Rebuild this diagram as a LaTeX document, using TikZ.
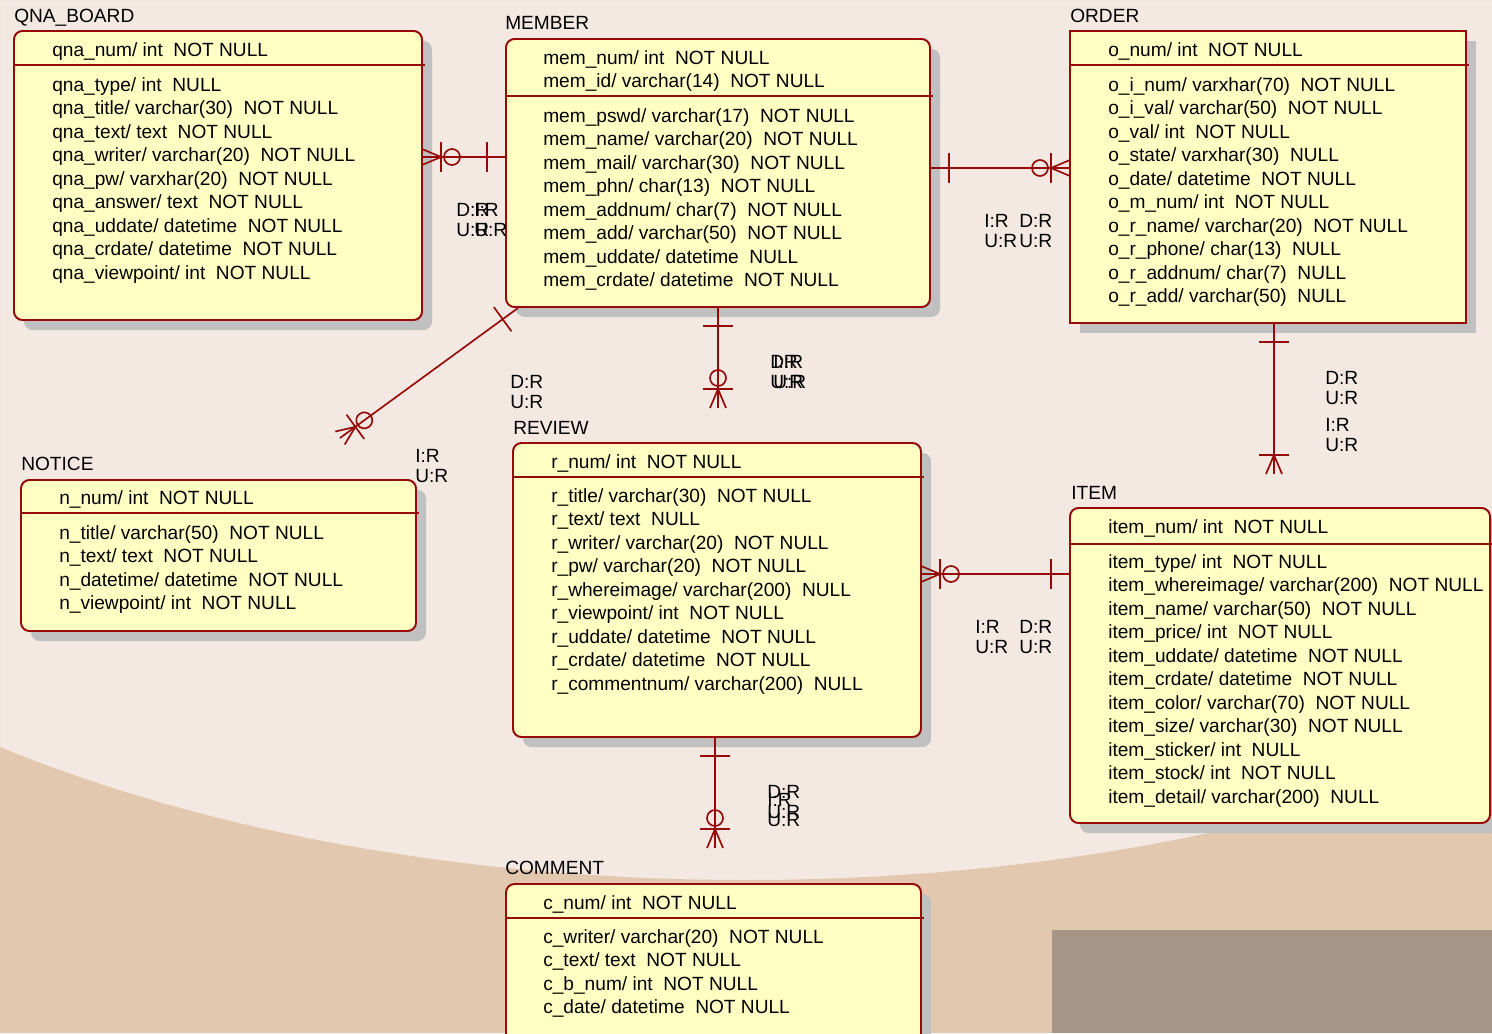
\documentclass[tikz,border=0pt]{standalone}
\usepackage{fontspec}
\setmainfont{Liberation Sans}
\usetikzlibrary{calc}
\definecolor{ErdRed}{RGB}{150,10,10}
\definecolor{ErdFill}{RGB}{255,255,196}
\definecolor{ErdShadow}{RGB}{192,192,192}
\definecolor{WoodPale}{RGB}{244,233,226}
\definecolor{WoodTan}{RGB}{226,200,174}
\definecolor{WoodDark}{RGB}{166,148,134}
\newcommand{\erdfont}{\fontsize{13.6}{16}\selectfont}
\newcommand{\lblfont}{\fontsize{13.6}{14.2}\selectfont}

\tikzset{
  entbox/.style={draw=ErdRed, fill=ErdFill, line width=1.4pt},
  shadowbox/.style={fill=ErdShadow},
  hdrline/.style={draw=ErdRed, line width=1.2pt},
  fieldtxt/.style={anchor=base west, inner sep=0pt, font=\erdfont},
  enttitle/.style={anchor=base west, inner sep=0pt, font=\erdfont},
  rolelbl/.style={anchor=west, inner sep=0pt, align=left, font=\lblfont},
  conn/.style={draw=ErdRed, line width=1.2pt},
  onemark/.pic={\draw[conn] (19,-15) -- (19,15);},
  manymark/.pic={\draw[conn] (0,-8) -- (19,0) -- (0,8);
    \draw[conn] (19,-15) -- (19,15);},
  zmanymark/.pic={\draw[conn] (0,-8) -- (19,0) -- (0,8);
    \draw[conn] (19,-15) -- (19,15);
    \draw[conn] (30,0) circle[radius=8];}
}

\begin{document}
\begin{tikzpicture}[x=0.025cm, y=-0.025cm]
  \useasboundingbox (0,0) rectangle (1492,1033);
  \clip (0,0) rectangle (1492,1033);
  % background
  \fill[WoodPale] (0,0) rectangle (1492,1033);
  \fill[WoodTan, even odd rule] (0,0) rectangle (1492,1033)
    (746,300) ellipse [x radius=1171, y radius=580];
  \fill[WoodDark] (1052,930) rectangle (1492,1033);

  % QNA_BOARD
  \fill[shadowbox, rounded corners=6pt] (24,41) rectangle (432,330);
  \draw[entbox, rounded corners=6pt] (14,31) rectangle (422,320);
  \draw[hdrline] (14,65) -- (425,65);
  \node[enttitle] (qna-title) at (14,22) {QNA\_BOARD};
  \node[fieldtxt] (qna-key) at (52,56) {qna\_num/ int~~NOT NULL};
  \foreach \txt [count=\i] in {qna\_type/ int~~NULL, qna\_title/ varchar(30)~~NOT NULL,
      qna\_text/ text~~NOT NULL, qna\_writer/ varchar(20)~~NOT NULL,
      qna\_pw/ varxhar(20)~~NOT NULL, qna\_answer/ text~~NOT NULL,
      qna\_uddate/ datetime~~NOT NULL, qna\_crdate/ datetime~~NOT NULL,
      qna\_viewpoint/ int~~NOT NULL}
    \node[fieldtxt] (qna-\i) at (52,67.5+23.5*\i) {\txt};

  % MEMBER
  \fill[shadowbox, rounded corners=6pt] (516,49) rectangle (940,317);
  \draw[entbox, rounded corners=6pt] (506,39) rectangle (930,307);
  \draw[hdrline] (506,96) -- (933,96);
  \node[enttitle] (mem-title) at (505,29) {MEMBER};
  \node[fieldtxt] (mem-key1) at (543,64) {mem\_num/ int~~NOT NULL};
  \node[fieldtxt] (mem-key2) at (543,87) {mem\_id/ varchar(14)~~NOT NULL};
  \foreach \txt [count=\i] in {mem\_pswd/ varchar(17)~~NOT NULL, mem\_name/ varchar(20)~~NOT NULL,
      mem\_mail/ varchar(30)~~NOT NULL, mem\_phn/ char(13)~~NOT NULL,
      mem\_addnum/ char(7)~~NOT NULL, mem\_add/ varchar(50)~~NOT NULL,
      mem\_uddate/ datetime~~NULL, mem\_crdate/ datetime~~NOT NULL}
    \node[fieldtxt] (mem-\i) at (543,98.5+23.5*\i) {\txt};

  % ORDER
  \fill[shadowbox] (1080,41) rectangle (1476,333);
  \draw[entbox] (1070,31) rectangle (1466,323);
  \draw[hdrline] (1070,65) -- (1469,65);
  \node[enttitle] (ord-title) at (1070,22) {ORDER};
  \node[fieldtxt] (ord-key) at (1108,56) {o\_num/ int~~NOT NULL};
  \foreach \txt [count=\i] in {o\_i\_num/ varxhar(70)~~NOT NULL, o\_i\_val/ varchar(50)~~NOT NULL,
      o\_val/ int~~NOT NULL, o\_state/ varxhar(30)~~NULL,
      o\_date/ datetime~~NOT NULL, o\_m\_num/ int~~NOT NULL,
      o\_r\_name/ varchar(20)~~NOT NULL, o\_r\_phone/ char(13)~~NULL,
      o\_r\_addnum/ char(7)~~NULL, o\_r\_add/ varchar(50)~~NULL}
    \node[fieldtxt] (ord-\i) at (1108,67.5+23.5*\i) {\txt};

  % NOTICE
  \fill[shadowbox, rounded corners=6pt] (31,490) rectangle (426,641);
  \draw[entbox, rounded corners=6pt] (21,480) rectangle (416,631);
  \draw[hdrline] (21,513) -- (419,513);
  \node[enttitle] (ntc-title) at (21,470) {NOTICE};
  \node[fieldtxt] (ntc-key) at (59,504) {n\_num/ int~~NOT NULL};
  \foreach \txt [count=\i] in {n\_title/ varchar(50)~~NOT NULL, n\_text/ text~~NOT NULL,
      n\_datetime/ datetime~~NOT NULL, n\_viewpoint/ int~~NOT NULL}
    \node[fieldtxt] (ntc-\i) at (59,515.5+23.5*\i) {\txt};

  % REVIEW
  \fill[shadowbox, rounded corners=6pt] (523,453) rectangle (931,747);
  \draw[entbox, rounded corners=6pt] (513,443) rectangle (921,737);
  \draw[hdrline] (513,477) -- (924,477);
  \node[enttitle] (rev-title) at (513,434) {REVIEW};
  \node[fieldtxt] (rev-key) at (551,468) {r\_num/ int~~NOT NULL};
  \foreach \txt [count=\i] in {r\_title/ varchar(30)~~NOT NULL, r\_text/ text~~NULL,
      r\_writer/ varchar(20)~~NOT NULL, r\_pw/ varchar(20)~~NOT NULL,
      r\_whereimage/ varchar(200)~~NULL, r\_viewpoint/ int~~NOT NULL,
      r\_uddate/ datetime~~NOT NULL, r\_crdate/ datetime~~NOT NULL,
      r\_commentnum/ varchar(200)~~NULL}
    \node[fieldtxt] (rev-\i) at (551,478.5+23.5*\i) {\txt};

  % ITEM
  \fill[shadowbox, rounded corners=6pt] (1080,518) rectangle (1500,833);
  \draw[entbox, rounded corners=6pt] (1070,508) rectangle (1490,823);
  \draw[hdrline] (1070,544) -- (1493,544);
  \node[enttitle] (itm-title) at (1071,499) {ITEM};
  \node[fieldtxt] (itm-key) at (1108,533) {item\_num/ int~~NOT NULL};
  \foreach \txt [count=\i] in {item\_type/ int~~NOT NULL, item\_whereimage/ varchar(200)~~NOT NULL,
      item\_name/ varchar(50)~~NOT NULL, item\_price/ int~~NOT NULL,
      item\_uddate/ datetime~~NOT NULL, item\_crdate/ datetime~~NOT NULL,
      item\_color/ varchar(70)~~NOT NULL, item\_size/ varchar(30)~~NOT NULL,
      item\_sticker/ int~~NULL, item\_stock/ int~~NOT NULL,
      item\_detail/ varchar(200)~~NULL}
    \node[fieldtxt] (itm-\i) at (1108,544.5+23.5*\i) {\txt};

  % COMMENT
  \fill[shadowbox, rounded corners=6pt] (516,894) rectangle (931,1055);
  \draw[entbox, rounded corners=6pt] (506,884) rectangle (921,1045);
  \draw[hdrline] (506,918) -- (924,918);
  \node[enttitle] (cmt-title) at (505,874) {COMMENT};
  \node[fieldtxt] (cmt-key) at (543,909) {c\_num/ int~~NOT NULL};
  \foreach \txt [count=\i] in {c\_writer/ varchar(20)~~NOT NULL, c\_text/ text~~NOT NULL,
      c\_b\_num/ int~~NOT NULL, c\_date/ datetime~~NOT NULL}
    \node[fieldtxt] (cmt-\i) at (543,919.5+23.5*\i) {\txt};

  % relations
  \coordinate (qm-q) at (422,157);
  \coordinate (qm-m) at (506,157);
  \draw[conn] (qm-q) -- (qm-m);
  \pic at (qm-q) {zmanymark};
  \pic[rotate=180] at (qm-m) {onemark};
  \node[rolelbl] (qm-del) at (456,220) {D:R\\U:R};
  \node[rolelbl] (qm-ins) at (474,220) {I:R\\U:R};

  \coordinate (mo-m) at (930,168);
  \coordinate (mo-o) at (1070,168);
  \draw[conn] (mo-m) -- (mo-o);
  \pic at (mo-m) {onemark};
  \pic[rotate=180] at (mo-o) {zmanymark};
  \node[rolelbl] (mo-ins) at (984,231) {I:R\\U:R};
  \node[rolelbl] (mo-del) at (1019,231) {D:R\\U:R};

  \coordinate (mn-m) at (518,308);
  \coordinate (mn-n) at (340,438);
  \draw[conn] (mn-m) -- (mn-n);
  \pic[rotate=216] at (mn-m) {onemark};
  \pic[rotate=36] at (mn-n) {zmanymark};
  \node[rolelbl] (mn-del) at (510,392) {D:R\\U:R};
  \node[rolelbl] (mn-ins) at (415,466) {I:R\\U:R};

  \coordinate (mr-m) at (718,307);
  \coordinate (mr-r) at (718,408);
  \draw[conn] (mr-m) -- (mr-r);
  \pic[rotate=-90] at (mr-m) {onemark};
  \pic[rotate=90] at (mr-r) {zmanymark};
  \node[rolelbl] (mr-del) at (770,372) {D:R\\U:R};
  \node[rolelbl] (mr-ins) at (773,372) {I:R\\U:R};

  \coordinate (oi-o) at (1274,323);
  \coordinate (oi-i) at (1274,474);
  \draw[conn] (oi-o) -- (oi-i);
  \pic[rotate=-90] at (oi-o) {onemark};
  \pic[rotate=90] at (oi-i) {manymark};
  \node[rolelbl] (oi-del) at (1325,388) {D:R\\U:R};
  \node[rolelbl] (oi-ins) at (1325,435) {I:R\\U:R};

  \coordinate (ri-r) at (921,574);
  \coordinate (ri-i) at (1070,574);
  \draw[conn] (ri-r) -- (ri-i);
  \pic at (ri-r) {zmanymark};
  \pic[rotate=180] at (ri-i) {onemark};
  \node[rolelbl] (ri-ins) at (975,637) {I:R\\U:R};
  \node[rolelbl] (ri-del) at (1019,637) {D:R\\U:R};

  \coordinate (rc-r) at (715,737);
  \coordinate (rc-c) at (715,848);
  \draw[conn] (rc-r) -- (rc-c);
  \pic[rotate=-90] at (rc-r) {onemark};
  \pic[rotate=90] at (rc-c) {zmanymark};
  \node[rolelbl] (rc-del) at (767,802) {D:R\\U:R};
  \node[rolelbl] (rc-ins) at (767,810) {I:R\\U:R};
\end{tikzpicture}
\end{document}
